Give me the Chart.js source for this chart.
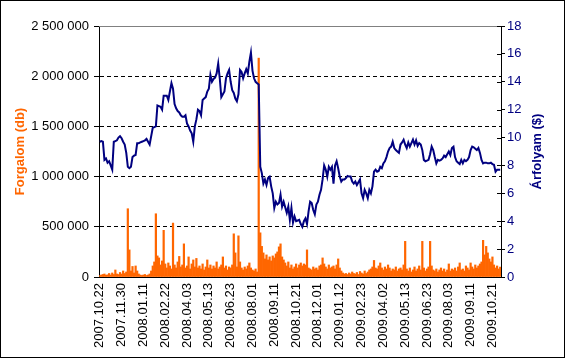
<!DOCTYPE html>
<html><head><meta charset="utf-8">
<script src="https://cdn.jsdelivr.net/npm/chart.js@4/dist/chart.umd.min.js"></script>
<style>html,body{margin:0;padding:0;background:#fff}#wrap{width:565px;height:358px}</style>
</head><body><div id="wrap"><canvas id="c" width="565" height="358"></canvas></div>
<script>
// Tick labels shown on the category axis (one every pointsPerLabel sessions)
const tickLabels = ['2007.10.22','2007.11.30','2008.01.11','2008.02.22','2008.04.03','2008.05.13','2008.06.23','2008.08.01','2008.09.11','2008.10.21','2008.12.01','2009.01.12','2009.02.23','2009.04.02','2009.05.13','2009.06.23','2009.08.03','2009.09.11','2009.10.21'];
const pointsPerLabel = 14;

// Árfolyam ($) – price series (right axis)
const price = [9.7,9.75,9.7,8.4,8.5,8.2,8.3,8.0,7.7,9.7,
9.75,9.8,10.0,10.1,9.95,9.7,9.5,8.9,7.9,7.8,
7.9,8.6,8.7,8.75,9.6,9.6,9.65,9.7,9.75,9.8,
9.9,9.7,9.5,10.1,10.7,10.75,10.8,12.3,12.25,12.2,
12.0,13.0,13.0,13.0,12.7,13.3,13.9,13.5,12.4,12.1,
11.9,11.8,11.6,11.5,11.5,11.6,11.0,10.8,10.5,10.3,
9.7,10.8,11.3,12.0,11.9,11.6,12.7,12.8,12.9,13.3,
13.5,14.5,14.0,14.2,14.3,14.6,15.3,14.25,12.9,13.1,
13.3,14.25,14.6,14.85,14.0,13.4,13.2,12.8,12.6,13.1,
14.85,14.7,14.25,14.6,14.9,14.6,15.45,16.1,14.8,14.25,
14.0,13.9,13.8,7.9,7.45,6.7,7.0,6.6,7.1,7.2,
6.5,6.0,4.95,5.4,5.2,5.3,5.9,5.05,5.4,5.0,
4.6,5.05,4.1,4.95,3.9,4.35,4.0,4.05,4.1,3.8,
3.6,4.0,4.2,3.8,4.7,5.4,5.3,4.8,4.5,5.2,
5.4,5.9,6.25,7.0,8.0,7.7,7.2,7.9,7.7,7.9,
6.7,8.0,8.3,7.8,7.2,6.85,7.0,7.0,7.1,7.25,
7.2,7.2,6.85,6.7,6.85,6.6,6.8,7.0,6.0,5.65,
6.25,6.0,5.65,6.25,6.0,6.5,7.55,7.7,7.55,7.6,
7.9,7.8,8.15,8.3,8.6,9.0,9.25,9.35,9.7,9.25,
9.1,9.0,8.9,9.5,9.65,9.85,9.5,9.25,9.65,9.35,
9.6,9.85,9.5,9.8,9.4,9.6,9.5,9.1,8.4,8.3,
8.35,8.4,8.8,9.35,9.1,8.6,8.15,8.4,8.35,8.4,
8.5,8.7,8.6,8.8,9.0,8.75,9.25,9.35,8.6,8.3,
8.2,8.1,8.4,8.15,8.4,8.3,8.4,8.6,9.1,9.35,
9.3,9.2,9.1,9.25,8.9,8.4,8.15,8.2,8.2,8.15,
8.15,8.2,8.1,8.05,7.55,7.7,7.7,7.7];

// Forgalom (db) – traded volume (left axis)
const volume = [15000,20000,25000,30000,18000,22000,35000,20000,40000,25000,
70000,30000,25000,45000,30000,60000,35000,50000,680000,270000,
60000,105000,40000,110000,60000,30000,20000,15000,20000,25000,
15000,20000,30000,60000,110000,150000,630000,210000,190000,120000,
160000,465000,130000,90000,140000,110000,80000,537000,120000,90000,
150000,205000,100000,120000,330000,90000,110000,200000,80000,130000,
170000,100000,185000,90000,110000,80000,130000,70000,100000,170000,
90000,120000,80000,110000,90000,150000,80000,100000,120000,200000,
90000,110000,70000,100000,90000,120000,430000,240000,100000,410000,
150000,90000,70000,100000,80000,110000,140000,90000,70000,60000,
80000,50000,2180000,440000,305000,240000,180000,220000,170000,200000,
160000,210000,190000,230000,250000,300000,330000,200000,170000,140000,
110000,150000,90000,120000,80000,100000,130000,90000,120000,140000,
110000,130000,120000,270000,90000,80000,70000,100000,80000,90000,
70000,110000,120000,190000,130000,100000,80000,120000,90000,100000,
110000,80000,120000,180000,90000,60000,40000,30000,35000,25000,
40000,30000,50000,35000,30000,45000,25000,55000,40000,30000,
60000,35000,50000,70000,80000,100000,165000,90000,80000,110000,
140000,90000,70000,100000,80000,120000,90000,60000,80000,70000,
100000,60000,80000,90000,70000,120000,355000,80000,60000,90000,
50000,70000,100000,60000,80000,110000,70000,355000,90000,60000,
80000,100000,355000,110000,70000,60000,80000,50000,70000,90000,
60000,80000,50000,70000,130000,60000,80000,70000,90000,60000,
100000,140000,70000,80000,60000,110000,90000,70000,140000,100000,
80000,120000,90000,110000,130000,150000,365000,220000,305000,240000,
180000,150000,200000,120000,90000,110000,80000,100000];

// Category labels: a date on every labelled session, blank otherwise
const categories = price.map((_, i) => i % pointsPerLabel === 0 ? (tickLabels[i / pointsPerLabel] || '') : '');

const FONT = '"Liberation Sans", Arial, sans-serif';
Chart.defaults.font.family = FONT;
Chart.defaults.font.size = 13;
Chart.defaults.color = '#000';

const fmt = v => String(v).replace(/\B(?=(\d{3})+(?!\d))/g, ' ');

const chrome = {
  id: 'chrome',
  afterDraw(chart) {
    const {ctx, chartArea: a} = chart;
    ctx.save();
    ctx.lineWidth = 1;
    // plot area top border
    ctx.strokeStyle = '#808080';
    ctx.beginPath(); ctx.moveTo(a.left, a.top + 0.5); ctx.lineTo(a.right, a.top + 0.5); ctx.stroke();
    // inward half of the cross tick marks on the right axis
    const s = chart.scales.y1;
    ctx.strokeStyle = '#000';
    s.ticks.forEach(t => {
      const y = Math.round(s.getPixelForValue(t.value)) + 0.5;
      ctx.beginPath(); ctx.moveTo(a.right - 4, y); ctx.lineTo(a.right, y); ctx.stroke();
    });
    // right axis title, reading bottom to top
    const t = chart.options.scales.y1.title;
    ctx.fillStyle = t.color;
    ctx.font = 'bold 13px ' + FONT;
    ctx.textAlign = 'center';
    ctx.textBaseline = 'middle';
    ctx.translate(chart.width - 27.5, (a.top + a.bottom) / 2);
    ctx.rotate(-Math.PI / 2);
    ctx.fillText(t.text, 0, 0);
    ctx.restore();
    // outer frame
    ctx.save();
    ctx.strokeStyle = '#000';
    ctx.lineWidth = 1;
    ctx.strokeRect(0.5, 0.5, chart.width - 1, chart.height - 1);
    ctx.restore();
  }
};

new Chart(document.getElementById('c'), {
  type: 'bar',
  data: {
    labels: categories,
    datasets: [
      { type: 'line', label: 'Árfolyam ($)', data: price, yAxisID: 'y1', borderColor: '#000080', borderWidth: 2, pointRadius: 0, tension: 0, order: 0 },
      { type: 'bar', label: 'Forgalom (db)', data: volume, yAxisID: 'y', backgroundColor: '#FF6600', borderWidth: 0, barPercentage: 1, categoryPercentage: 1, order: 1 }
    ]
  },
  options: {
    responsive: false,
    animation: false,
    devicePixelRatio: 1,
    layout: { padding: { top: 26, left: 0, right: 0, bottom: 0 } },
    plugins: { legend: { display: false }, tooltip: { enabled: false } },
    scales: {
      x: {
        type: 'category',
        offset: true,
        ticks: {
          autoSkip: false, minRotation: 90, maxRotation: 90, padding: 6, color: '#000',
          callback(v) { const l = this.getLabelForValue(v); return l === '' ? null : l; }
        },
        grid: { drawOnChartArea: false, drawTicks: false },
        border: { color: '#000', width: 1 },
        afterFit(s) { s.height = 81; }
      },
      y: {
        position: 'left', min: 0, max: 2500000,
        ticks: { stepSize: 500000, padding: 5, color: '#000', callback: v => fmt(v) },
        grid: {
          color: c => (c.tick && (c.tick.value === 0 || c.tick.value === 2500000)) ? 'rgba(0,0,0,0)' : '#000',
          tickColor: '#000', tickLength: 5, lineWidth: 1
        },
        border: { color: '#000', width: 1, dash: [4, 3] },
        title: { display: true, text: 'Forgalom (db)', color: '#FF6600', font: { size: 13, weight: 'bold' }, padding: { top: 13, bottom: 0 } },
        afterFit(s) { s.width = 99; }
      },
      y1: {
        position: 'right', min: 0, max: 18,
        ticks: { stepSize: 2, padding: 2, color: '#000080' },
        grid: { drawOnChartArea: false, tickColor: '#000', tickLength: 4 },
        border: { color: '#000', width: 1 },
        title: { display: false, text: 'Árfolyam ($)', color: '#000080' },
        afterFit(s) { s.width = 64; }
      }
    }
  },
  plugins: [chrome]
});
</script>
</body></html>
